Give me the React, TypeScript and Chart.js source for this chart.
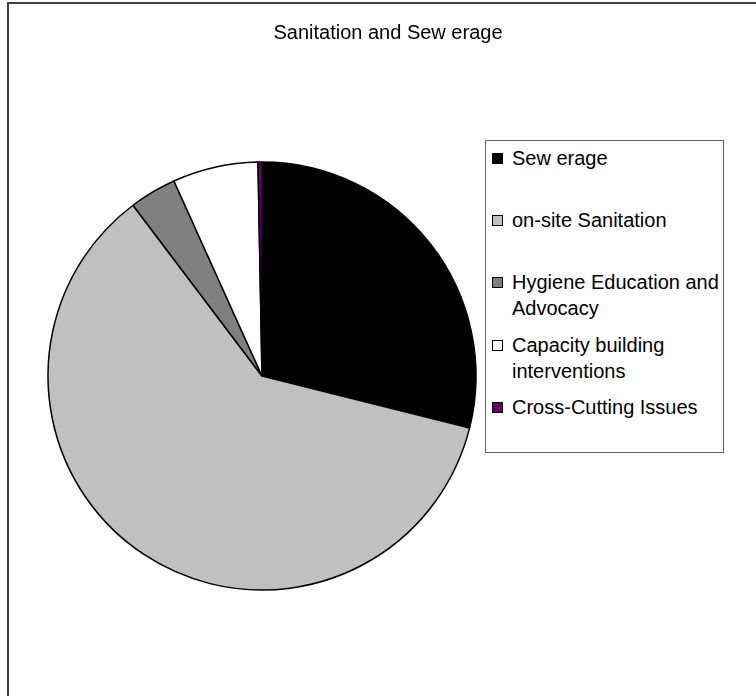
import React, { useEffect, useRef } from "react";
import { Chart, registerables } from "chart.js";

Chart.register(...registerables);

const TITLE = "Sanitation and Sew erage";
const CATEGORIES = [
  "Sew erage",
  "on-site Sanitation",
  "Hygiene Education and Advocacy",
  "Capacity building interventions",
  "Cross-Cutting Issues",
];
const LEGEND_LINES = [
  ["Sew erage"],
  ["on-site Sanitation"],
  ["Hygiene Education and", "Advocacy"],
  ["Capacity building", "interventions"],
  ["Cross-Cutting Issues"],
];
const VALUES = [28.9, 60.8, 3.55, 6.45, 0.3];
const COLORS = ["#000000", "#c0c0c0", "#808080", "#ffffff", "#660066"];

const FONT = '"Liberation Sans", Arial, sans-serif';

export default function App() {
  const canvasRef = useRef<HTMLCanvasElement | null>(null);

  useEffect(() => {
    if (!canvasRef.current) return;
    const chart = new Chart(canvasRef.current, {
      type: "pie",
      data: {
        labels: CATEGORIES,
        datasets: [
          {
            data: VALUES,
            backgroundColor: COLORS,
            borderColor: "#000000",
            borderWidth: 1.5,
          },
        ],
      },
      options: {
        responsive: false,
        animation: false,
        devicePixelRatio: 1,
        events: [],
        radius: 214,
        layout: { padding: { top: 56, left: 0, right: 232, bottom: 0 } },
        plugins: {
          legend: { display: false },
          title: { display: false },
          tooltip: { enabled: false },
        },
      } as any,
    });
    return () => chart.destroy();
  }, []);

  return (
    <div
      style={{
        position: "fixed",
        left: 0,
        top: 0,
        width: 756,
        height: 696,
        overflow: "hidden",
        background: "#ffffff",
        fontFamily: FONT,
      }}
    >
      <div
        style={{
          position: "absolute",
          left: 7,
          top: 2,
          width: 820,
          height: 820,
          border: "2px solid #404040",
        }}
      />
      <canvas
        ref={canvasRef}
        width={756}
        height={696}
        style={{ position: "absolute", left: 0, top: 0, width: 756, height: 696 }}
      />
      <div
        style={{
          position: "absolute",
          left: 188,
          top: 22,
          width: 400,
          textAlign: "center",
          fontSize: 20,
          lineHeight: "20px",
          color: "#000",
          whiteSpace: "nowrap",
        }}
      >
        {TITLE}
      </div>
      <div
        style={{
          position: "absolute",
          left: 485,
          top: 140,
          width: 239,
          height: 313,
          boxSizing: "border-box",
          border: "1px solid #666666",
          background: "#ffffff",
        }}
      >
        {LEGEND_LINES.map((lines, i) => (
          <div
            key={i}
            style={{
              position: "absolute",
              left: 0,
              top: 4 + i * 62.2,
              width: 237,
            }}
          >
            <div
              style={{
                position: "absolute",
                left: 6,
                top: 8,
                width: 9,
                height: 9,
                border: "1px solid #000",
                background: COLORS[i],
              }}
            />
            <div
              style={{
                position: "absolute",
                left: 26,
                top: 0,
                fontSize: 20,
                lineHeight: "26px",
                color: "#000",
                whiteSpace: "nowrap",
              }}
            >
              {lines.map((l, j) => (
                <div key={j}>{l}</div>
              ))}
            </div>
          </div>
        ))}
      </div>
    </div>
  );
}
